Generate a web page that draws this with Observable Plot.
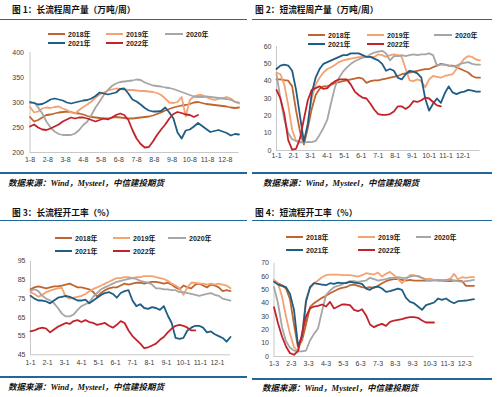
<!DOCTYPE html>
<html><head><meta charset="utf-8">
<script src="https://cdn.jsdelivr.net/npm/d3@7"></script>
<script src="https://cdn.jsdelivr.net/npm/@observablehq/plot@0.6"></script>
<style>
html,body{margin:0;padding:0;background:#fff;}
#root{position:relative;width:500px;height:397px;overflow:hidden;background:#fff;font-family:"Liberation Sans","Noto Sans CJK SC",sans-serif;}
.abs{position:absolute;white-space:nowrap;}
.title{font-family:"Noto Sans CJK SC","Liberation Sans",sans-serif;font-weight:bold;font-size:8.7px;line-height:8.7px;color:#111;}
.src{font-family:"Liberation Serif","Noto Sans CJK SC",serif;font-weight:bold;font-style:italic;font-size:8.5px;line-height:8.5px;color:#111;}
.leg{font-family:"Liberation Sans","Noto Sans CJK SC",sans-serif;font-weight:bold;font-size:7px;line-height:7px;color:#222;}
.rule{position:absolute;background:#22679a;}
</style></head>
<body><div id="root"></div>
<script>
// ---------- labels ----------
const years = ["2018年","2019年","2020年","2021年","2022年"];
const colors = ["#c0652e","#f4a271","#a6a6a6","#1f5d85","#c3222b"];
const months1 = ["1-8","2-8","3-8","4-8","5-8","6-8","7-8","8-8","9-8","10-8","11-8","12-8"];
const months2 = ["1-1","2-1","3-1","4-1","5-1","6-1","7-1","8-1","9-1","10-1","11-1","12-1"];
const months3 = ["1-1","2-1","3-1","4-1","5-1","6-1","7-1","8-1","9-1","10-1","11-1","12-1"];
const months4 = ["1-3","2-3","3-3","4-3","5-3","6-3","7-3","8-3","9-3","10-3","11-3","12-3"];
const yticks1 = [200,250,300,350,400];
const yticks2 = [0,10,20,30,40,50,60];
const yticks3 = [45,55,65,75,85,95];
const yticks4 = [0,10,20,30,40,50,60,70];

// ---------- 图1 长流程周产量 (weekly) ----------
const p1_2018 = [271,262,265,270,275,276,278,280,281,282,281,279,278,276,273,271,270,269,268,268,270,271,270,269,268,268,269,270,271,272,274,277,280,284,287,290,292,294,295,297,300,301,299,297,296,295,294,293,292,290,289,290];
const p1_2019 = [291,280,282,288,290,289,291,292,288,285,280,278,285,291,296,302,310,316,320,324,326,328,327,326,325,325,324,323,323,322,321,319,315,308,300,299,301,311,272,305,312,315,315,311,307,305,307,309,311,308,301,298];
const p1_2020 = [298,300,290,278,262,250,242,237,235,235,235,238,245,255,262,275,290,302,315,325,333,338,341,342,343,344,346,345,340,337,334,333,332,330,329,327,324,321,318,315,312,311,311,312,311,310,309,308,307,305,302,300];
const p1_2021 = [301,299,296,297,301,306,308,306,304,300,298,300,302,304,305,308,313,320,318,316,318,320,327,328,318,306,302,296,289,284,282,282,283,290,280,268,240,228,244,246,252,259,253,247,241,243,245,242,239,234,237,236];
const p1_2022 = [252,256,250,246,245,248,252,256,262,266,270,268,270,270,268,265,262,265,268,266,270,275,278,275,265,245,228,217,210,211,222,235,246,256,268,277,281,279,276,275,271,275];

// ---------- 图2 短流程周产量 ----------
const p2_2018 = [41,41,40.6,40.3,37,23,11,3.5,13,24,32,35.5,37,37,38,39,39.5,40,40.5,41,41.5,42,41.5,39,40,40.5,40.5,41,41.5,42,42.5,43,44,44.5,45,45.5,46,46.5,47,47,48,49,50,49.5,49,49,48,47,46,45,43,42,42];
const p2_2019 = [45,44,38,26,12,5.5,4.5,5,16,30,38,42,45,47,48,49.5,51,52,52.5,53,53.4,53.8,54,54,54,54,55.5,55,54,55,55.5,55,54,47,40.5,40,41,40,36.5,41,43,42.5,42,43,43.5,44,47,50,53,54.5,54,52.5,52];
const p2_2020 = [44,30,18,10,6.5,5.5,5,4.5,5,4.8,5.5,9,13,18,28,37,42,45.5,48,50,51.5,52.5,53.5,54,55.5,56.5,57,57.5,56,52,54.5,54.5,55,54.5,55,55.5,55,55.5,55.5,56,55,49,49.5,49.5,49,48.5,49,50,50.5,51,50,49.5,49.5];
const p2_2021 = [47,49,49.5,49,46,35,20,5,15,33,42,47,50,51,52,53,54,55,55,56,56,56,55,54,54,53,52,50,46,47,46,42,41,44,46,45.5,44.5,42,30,23,27,30,27.5,33,37,33.5,32.5,33.5,34,35,34.5,34,34];
const p2_2022 = [35,30,21,6,0.5,1,7,18,29,35,36,37,35.5,36,38.5,40,41,41,41,38,34,32,30.5,30,27,23.5,21,20.5,20.5,21,22.5,25.5,25.5,24,25.5,28.5,28,29,30.5,30,28,26,25.5];

// ---------- 图3 长流程开工率 ----------
const p3_2018 = [80,81,81.5,81,80.5,81,81.5,81.5,82,82.5,83,82,81,81,80.5,80,78.5,76,78,79.5,80.5,81,81,82,83,82.5,83,83.5,83.5,83,83.5,84,84,83.5,83,83.5,82.5,81,80,82,81,80.5,82.5,83,82,81,82.5,82,81,79,79.5,79];
const p3_2019 = [78.5,77.5,76,77,78.5,79.3,80,80.5,80.8,76,75,75.5,76,76.5,77.5,79,80.2,81,82,83,84,85,86,86,86.5,86.5,86,86.5,86.5,87,87,87,86.5,86,85.5,84.5,83,82,80.5,77,81,83.5,83.5,83,83,82.5,83,82.5,83,82.5,82,80.5];
const p3_2020 = [79,80,79,76.5,75,74,72.5,70,67,65.5,65.5,66.5,69,71,72,73,76,78,80,81,82,83,84,84.5,85,85.5,86,85.5,84.5,84,83.5,82.5,80.5,80.5,80,80,79.5,79.5,78.5,78.5,78,77.5,77,76.5,77,77.5,78,77,76.5,75,74.5,74];
const p3_2021 = [76.5,75,74,74,73.5,72.5,74,75.5,76,76.5,76,75,74,74,74.5,72.5,74,75.5,77,78,78.5,77.5,75.5,78,79,79.5,74,71,72,70,69.5,70.5,70,69,71,66,62,54,53.5,54,58,59.5,60.5,60.5,59.5,57,57.5,56,55,54,52,54.5];
const p3_2022 = [57.5,58,59,59.5,59,57,58.5,60,61,62,61.5,63,63.5,62.5,63.5,62.5,62,61,61.5,62,60.5,59.5,61,63,62,58,55,53,51,48.5,49,50,51,53,54.5,57,59,60.5,61,60.5,59.5,58,58];

// ---------- 图4 短流程开工率 ----------
const p4_2018 = [57,55,53.5,51,43,24,7,12,24,37,40,42,44,45.5,47.5,49,50.5,51.5,52,53.5,54,53,52,51.5,52,51.5,53,55,56.5,57.5,58,58,57.5,57,57.5,57,57,57,57,57,57.5,57,57,56.5,56.5,57,57,56.5,53,53,53];
const p4_2019 = [57.5,55,45,30,17,7,4,15,43,51,55,57,59.5,61,61.5,61.5,61.5,61,61,61,60.5,60,61,62.5,62,61.5,63,60,62,63.5,61,58,55,58,61,61,60,59,58,58.5,57.5,57,57.5,57,58,62,58,59.5,59,59.5,59.5];
const p4_2020 = [52,40,22,11.5,6.5,4.5,3.8,3.8,4.5,12,17,21,34,46,49.5,52,53,54,55.5,56.5,56.5,56,56.5,57,59,58,57,57.5,58,59,59,59.5,59,59,60,60.5,60.5,59,57.5,57,57,57.5,57,57.5,58,57,56.5,56,56.5,57,57.5];
const p4_2021 = [56,54,53,52,47,35,8,15,41,52,55,54.5,54,53.5,55,54.5,55.5,55,55,56,55.5,55,54.5,51,50,52,52.5,51,48.5,49,50,51,50,44,41,40,37.5,35,38.5,39.5,40.5,43.5,42.5,43.5,41.5,40,41.5,41.8,42,42.5,43];
const p4_2022 = [37,25,15,7.5,2.5,1.3,4,17,30,36,37.5,38,39,37.5,41,36,37.5,39,39,38.5,35,34,35.5,31,24,22,23.5,24.5,23,26,27,27.5,28,29,29.5,29.5,29,27,25.5,25.5,25.5];

const root = document.getElementById("root");

function el(cls, left, top, html){
  const d = document.createElement("div");
  d.className = cls; d.style.left = left + "px"; d.style.top = top + "px";
  if (html != null) d.innerHTML = html;
  root.appendChild(d); return d;
}
function rule(left, top, w, h){
  const d = document.createElement("div");
  d.className = "rule";
  Object.assign(d.style,{left:left+"px",top:top+"px",width:w+"px",height:h+"px"});
  root.appendChild(d);
}
function legend(items){
  items.forEach(([i, x, y, lw]) => {
    const l = document.createElement("div");
    Object.assign(l.style,{position:"absolute",left:x+"px",top:(y-1)+"px",width:lw+"px",height:"2px",background:colors[i]});
    root.appendChild(l);
    el("abs leg", x + lw + 3, y - 3.5, years[i]);
  });
}

function panel(cfg){
  const tickW = cfg.months.map((_, m) => m * 52 / 12);
  const marks = [
    Plot.ruleX([0], {stroke: "#c8c8c8", strokeWidth: 1}),
    Plot.ruleY([cfg.ydomain[0]], {stroke: "#c8c8c8", strokeWidth: 1}),
    Plot.axisX({ticks: tickW, tickFormat: d => cfg.months[Math.round(d * 12 / 52)], tickSize: 0, tickPadding: cfg.xpad, label: null, fontSize: 7}),
    Plot.axisY({ticks: cfg.yticks, tickSize: 0, tickPadding: cfg.ypad, label: null, fontSize: 7})
  ];
  cfg.series.forEach((vals, k) => {
    marks.push(Plot.line(vals, {x: (d, i) => i, y: d => d, stroke: colors[k], strokeWidth: 1.8, strokeLinejoin: "round"}));
  });
  const svg = Plot.plot({
    width: cfg.w, height: cfg.h,
    marginLeft: cfg.ml, marginRight: cfg.mr, marginTop: cfg.mt, marginBottom: cfg.mb,
    x: {domain: [0, cfg.xmax], axis: null, label: null},
    y: {domain: cfg.ydomain, axis: null, label: null},
    style: {background: "transparent", color: "#404040", fontFamily: "'Liberation Sans', Arial, sans-serif", fontSize: "7px"},
    marks
  });
  const wrap = document.createElement("div");
  Object.assign(wrap.style, {position: "absolute", left: cfg.left + "px", top: cfg.top + "px"});
  wrap.appendChild(svg);
  root.appendChild(wrap);
}

const srcText = "数据来源：Wind，Mysteel，中信建投期货";

// Panel 1
el("abs title", 12, 6, "图 1：长流程周产量（万吨/周）");
rule(0, 19, 247, 1);
legend([[0,48,34,17],[1,106,34,17],[2,165,34,18],[3,48,43,17],[4,106,43,17]]);
panel({left:0, top:44, w:250, h:128, ml:29.5, mr:11.5, mt:8, mb:20, xmax:51, ydomain:[200,400], yticks:yticks1, months:months1, xpad:4.5, ypad:6,
  series:[p1_2018,p1_2019,p1_2020,p1_2021,p1_2022]});
rule(0, 172, 247, 2);
el("abs src", 8, 179, srcText);

// Panel 2
el("abs title", 255, 6, "图 2：短流程周产量（万吨/周）");
rule(252, 19, 240, 1);
legend([[0,308,35,17],[1,367,35,17],[2,434,35,18],[3,308,44,17],[4,367,44,17]]);
panel({left:250, top:38, w:250, h:130, ml:26, mr:20.5, mt:8, mb:18, xmax:52, ydomain:[0,60], yticks:yticks2, months:months2, xpad:2.5, ypad:5,
  series:[p2_2018,p2_2019,p2_2020,p2_2021,p2_2022]});
rule(252, 172, 240, 2);
el("abs src", 263, 179, srcText);

// Panel 3
el("abs title", 12, 209, "图 3：长流程开工率（%）");
rule(0, 220, 247, 1);
legend([[0,55,238,17],[1,113,238,17],[2,168,238,18],[3,55,251,17],[4,113,251,17]]);
panel({left:0, top:250, w:250, h:125, ml:30, mr:20, mt:10.7, mb:20.7, xmax:51, ydomain:[45,95], yticks:yticks3, months:months3, xpad:5, ypad:5,
  series:[p3_2018,p3_2019,p3_2020,p3_2021,p3_2022]});
rule(0, 376, 247, 2);
el("abs src", 8, 383, srcText);

// Panel 4
el("abs title", 255, 209, "图 4：短流程开工率（%）");
rule(252, 220, 240, 1);
legend([[0,286,237,17],[1,358,237,17],[2,416,237,15],[3,286,250,17],[4,358,250,17]]);
panel({left:250, top:252, w:250, h:125, ml:23.5, mr:26.5, mt:10.7, mb:21, xmax:50, ydomain:[0,70], yticks:yticks4, months:months4, xpad:4.5, ypad:5,
  series:[p4_2018,p4_2019,p4_2020,p4_2021,p4_2022]});
rule(252, 378, 240, 2);
el("abs src", 262, 384, srcText);
</script>
</body></html>
